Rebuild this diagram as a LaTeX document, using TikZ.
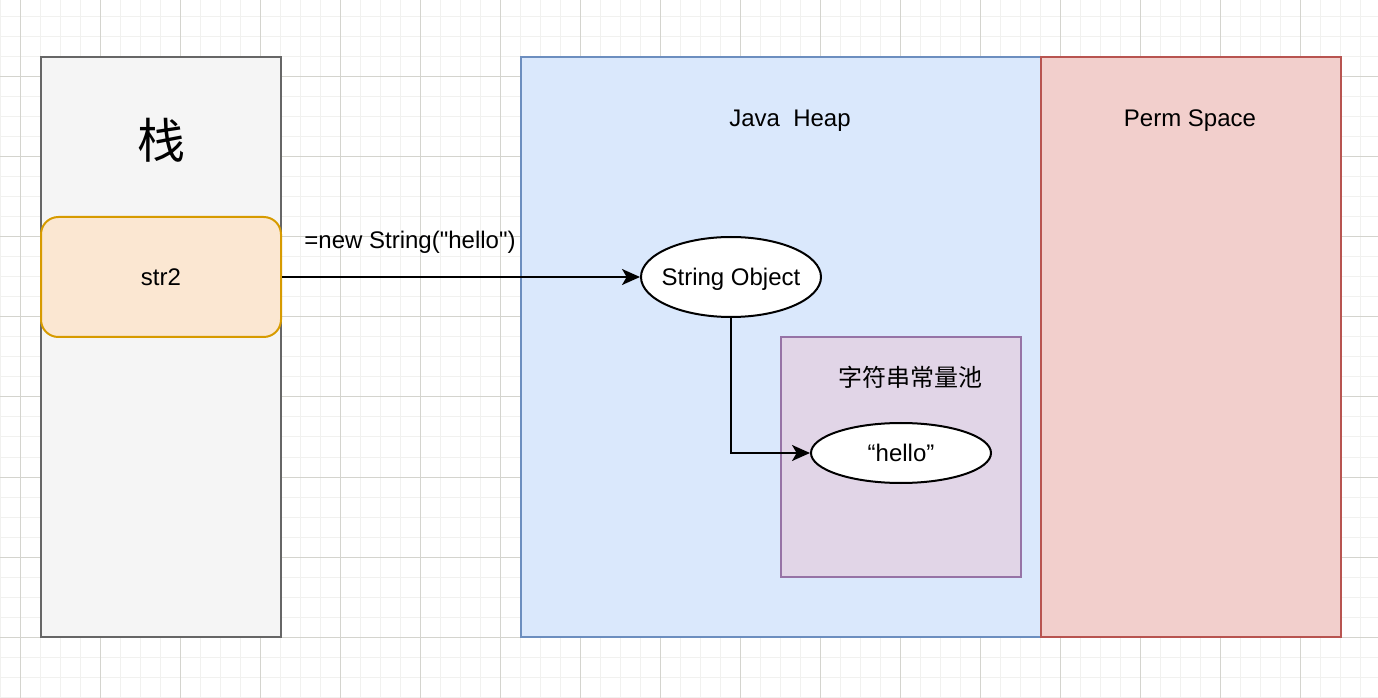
\documentclass[tikz,border=0pt]{standalone}
\usepackage{fontspec}
\setmainfont{Liberation Sans}
\newfontfamily\plainfont{Liberation Sans}[Ligatures=TeXOff]
\newfontfamily\cjk{Noto Sans CJK SC}
\usetikzlibrary{arrows.meta,shapes.geometric}
\definecolor{gridminor}{RGB}{241,241,239}
\definecolor{gridmajor}{RGB}{212,212,206}
\definecolor{stackfill}{HTML}{F5F5F5}
\definecolor{stackdraw}{HTML}{666666}
\definecolor{heapfill}{HTML}{DAE8FC}
\definecolor{heapdraw}{HTML}{6C8EBF}
\definecolor{permfill}{HTML}{F2CFCC}
\definecolor{permdraw}{HTML}{B85450}
\definecolor{strfill}{HTML}{FBE7D2}
\definecolor{strdraw}{HTML}{D79B00}
\definecolor{poolfill}{HTML}{E1D5E7}
\definecolor{pooldraw}{HTML}{9673A6}
\tikzset{
  box/.style={rectangle, line width=1.5pt, inner sep=0pt},
  oval/.style={ellipse, draw=black, fill=white, line width=1.5pt, inner sep=0pt},
  txt/.style={font=\fontsize{18}{22}\selectfont, inner sep=0pt, text height=12.9pt, text depth=0pt},
  arr/.style={line width=1.5pt, -{Stealth[length=13.5pt, width=12pt, inset=3.5pt]}},
}
\begin{document}
\begin{tikzpicture}[x=0.75pt, y=-0.75pt]
\useasboundingbox (0,0) rectangle (1378,698);
\fill[white] (0,0) rectangle (1378,698);
% grid
\foreach \x in {0,20,...,1380} \draw[gridminor, line width=0.75pt] (\x,0) -- (\x,698);
\foreach \y in {17,37,...,697} \draw[gridminor, line width=0.75pt] (0,\y) -- (1378,\y);
\foreach \x in {20,100,...,1380} \draw[gridmajor, line width=0.75pt] (\x,0) -- (\x,698);
\foreach \y in {77,157,...,697} \draw[gridmajor, line width=0.75pt] (0,\y) -- (1378,\y);
% containers
\node[box, draw=stackdraw, fill=stackfill, minimum width=180pt, minimum height=435pt] (stack) at (161,347) {};
\node[box, draw=heapdraw, fill=heapfill, minimum width=390pt, minimum height=435pt] (heap) at (781,347) {};
\node[box, draw=permdraw, fill=permfill, minimum width=225pt, minimum height=435pt] (perm) at (1191,347) {};
\node[box, draw=pooldraw, fill=poolfill, minimum width=180pt, minimum height=180pt] (pool) at (901,457) {};
% labels
\node[inner sep=0pt, font=\cjk\fontsize{36}{40}\selectfont] (stacklbl) at (161,140) {栈};
\node[txt] (heaplbl) at (790,118) {Java\ \ Heap};
\node[txt] (permlbl) at (1190,118) {Perm Space};
\node[txt, font=\cjk\fontsize{18}{22}\selectfont] (poollbl) at (910,378) {字符串常量池};
% items
\node[box, draw=strdraw, fill=strfill, rounded corners=13pt, minimum width=180pt, minimum height=90pt, txt] (str2) at (161,277) {str2};
\node[oval, minimum width=135pt, minimum height=60pt] (strobj) at (731,277) {};
\node[txt] (strobjlbl) at (strobj.center) {String Object};
\node[oval, minimum width=135pt, minimum height=45pt] (hello) at (901,453) {};
\node[txt] (hellolbl) at (hello.center) {“hello”};
% connectors
\draw[arr] (str2.east) -- (strobj.west);
\node[txt, font=\plainfont\fontsize{18}{22}\selectfont] (newlbl) at (410,240) {=new String("hello")};
\draw[arr] (strobj.south) |- (hello.west);
\end{tikzpicture}
\end{document}
